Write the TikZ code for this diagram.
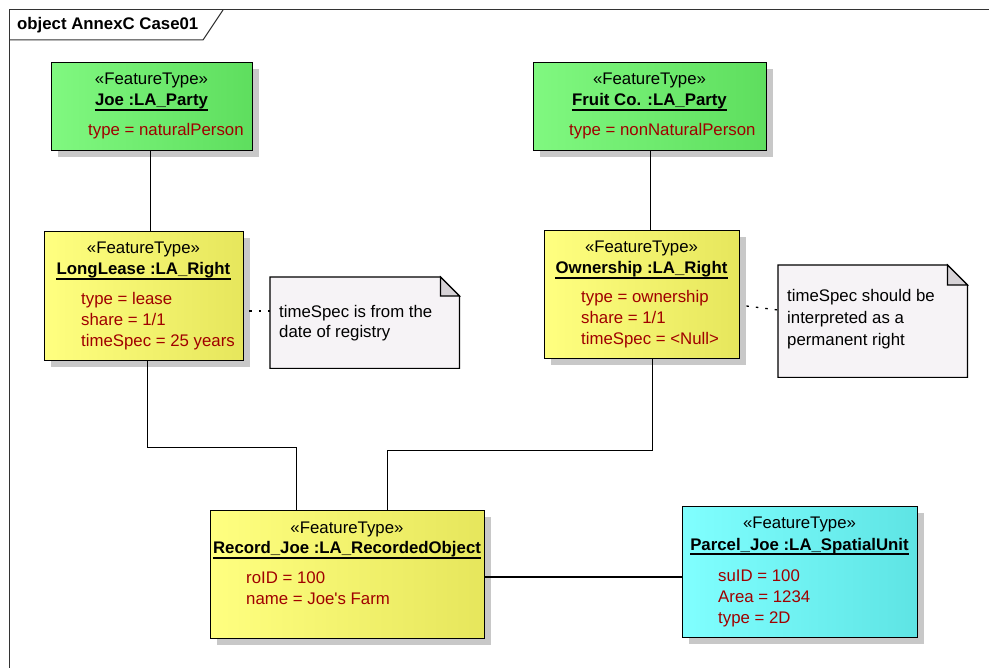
\documentclass[tikz,border=0pt]{standalone}
\usepackage{fontspec}
\setmainfont{Liberation Sans}
\usetikzlibrary{shadows}
\definecolor{gL}{RGB}{128,248,128}
\definecolor{gR}{RGB}{94,222,94}
\definecolor{yL}{RGB}{255,255,128}
\definecolor{yR}{RGB}{230,230,92}
\definecolor{cL}{RGB}{128,255,255}
\definecolor{cR}{RGB}{94,228,228}
\definecolor{noteF}{RGB}{246,243,246}
\definecolor{foldF}{RGB}{214,210,214}
\definecolor{shadowG}{RGB}{200,200,200}
\definecolor{attrRed}{RGB}{160,0,0}
\begin{document}
\begin{tikzpicture}[x=1pt,y=-1pt,
  txt/.style={inner sep=0pt, font=\fontsize{16.8}{19}\selectfont},
  objbox/.style={draw=black, line width=1.4pt, inner sep=0pt, anchor=north west,
    drop shadow={shadow xshift=6pt, shadow yshift=-6pt, fill=shadowG, opacity=1}},
  greenbox/.style={objbox, left color=gL, right color=gR},
  yellowbox/.style={objbox, left color=yL, right color=yR},
  cyanbox/.style={objbox, left color=cL, right color=cR},
  stereo/.style={txt, anchor=base},
  oname/.style={txt, anchor=base, font=\fontsize{16.8}{19}\selectfont\bfseries},
  uline/.style={line width=1.4pt},
  attr/.style={txt, anchor=base west, text=attrRed},
  notetxt/.style={txt, anchor=base west, text=black},
  notearea/.style={inner sep=0pt, anchor=north west},
  notedraw/.style={draw=black, line width=1.2pt, fill=noteF},
  folddraw/.style={draw=black, line width=1.2pt, fill=foldF},
  conn/.style={draw=black, line width=1.3pt},
  dotconn/.style={draw=black, line width=1.3pt, dash pattern=on 2.5pt off 7pt}
]
\useasboundingbox (0,0) rectangle (989,668);
\clip (0,0) rectangle (989,668);
\fill[white] (0,0) rectangle (989,668);

% frame
\draw[line width=1pt, draw=black!80] (9,10) rectangle (1010,700);
\draw[line width=1pt, draw=black!80] (9,40) -- (203,40) -- (223,10);
\node[txt, anchor=base west, font=\fontsize{16.8}{19}\selectfont\bfseries] (title) at (17,30) {object AnnexC Case01};

% Joe
\node[greenbox, minimum width=201pt, minimum height=88pt] (joe) at (51,62) {};
\node[stereo] (joeS) at (151.5,85) {«FeatureType»};
\node[oname] (joeN) at (151.5,106) {Joe :LA\_Party};
\draw[uline] ([yshift=-4pt]joeN.base west) -- ([yshift=-4pt]joeN.base east);
\node[attr] (joeA) at (88,136) {type = naturalPerson};

% Fruit Co.
\node[greenbox, minimum width=233pt, minimum height=88pt] (fruit) at (533,62) {};
\node[stereo] (fruitS) at (649.5,85) {«FeatureType»};
\node[oname] (fruitN) at (649.5,106) {Fruit Co. :LA\_Party};
\draw[uline] ([yshift=-4pt]fruitN.base west) -- ([yshift=-4pt]fruitN.base east);
\node[attr] (fruitA) at (569,136) {type = nonNaturalPerson};

% LongLease
\node[yellowbox, minimum width=199pt, minimum height=129pt] (ll) at (44,231) {};
\node[stereo] (llS) at (143.5,254) {«FeatureType»};
\node[oname] (llN) at (143.5,275) {LongLease :LA\_Right};
\draw[uline] ([yshift=-4pt]llN.base west) -- ([yshift=-4pt]llN.base east);
\node[attr] (llA1) at (81,305) {type = lease};
\node[attr] (llA2) at (81,326) {share = 1/1};
\node[attr] (llA3) at (81,347) {timeSpec = 25 years};

% Ownership
\node[yellowbox, minimum width=195pt, minimum height=128pt] (own) at (544,230) {};
\node[stereo] (ownS) at (641.5,253) {«FeatureType»};
\node[oname] (ownN) at (641.5,274) {Ownership :LA\_Right};
\draw[uline] ([yshift=-4pt]ownN.base west) -- ([yshift=-4pt]ownN.base east);
\node[attr] (ownA1) at (581,303) {type = ownership};
\node[attr] (ownA2) at (581,324) {share = 1/1};
\node[attr] (ownA3) at (581,345) {timeSpec = <Null>};

% Note 1
\node[notearea, minimum width=189pt, minimum height=91pt] (n1) at (270,277) {};
\draw[notedraw] (n1.north west) -- ([xshift=-19pt]n1.north east) -- ([yshift=-19pt]n1.north east) -- (n1.south east) -- (n1.south west) -- cycle;
\draw[folddraw] ([xshift=-19pt]n1.north east) -- ([xshift=-19pt,yshift=-19pt]n1.north east) -- ([yshift=-19pt]n1.north east) -- cycle;
\node[notetxt] (n1L1) at (279,318) {timeSpec is from the};
\node[notetxt] (n1L2) at (279,338) {date of registry};

% Note 2
\node[notearea, minimum width=189pt, minimum height=112pt] (n2) at (778,265) {};
\draw[notedraw] (n2.north west) -- ([xshift=-20pt]n2.north east) -- ([yshift=-20pt]n2.north east) -- (n2.south east) -- (n2.south west) -- cycle;
\draw[folddraw] ([xshift=-20pt]n2.north east) -- ([xshift=-20pt,yshift=-20pt]n2.north east) -- ([yshift=-20pt]n2.north east) -- cycle;
\node[notetxt] (n2L1) at (787,302) {timeSpec should be};
\node[notetxt] (n2L2) at (787,324) {interpreted as a};
\node[notetxt] (n2L3) at (787,346) {permanent right};

% Record_Joe
\node[yellowbox, minimum width=274pt, minimum height=128pt] (rec) at (210,510) {};
\node[stereo] (recS) at (347,533) {«FeatureType»};
\node[oname] (recN) at (347,554) {Record\_Joe :LA\_RecordedObject};
\draw[uline] ([yshift=-4pt]recN.base west) -- ([yshift=-4pt]recN.base east);
\node[attr] (recA1) at (246,583) {roID = 100};
\node[attr] (recA2) at (246,604) {name = Joe\textquotesingle s Farm};

% Parcel_Joe
\node[cyanbox, minimum width=235pt, minimum height=131pt] (par) at (682,506) {};
\node[stereo] (parS) at (799.5,529) {«FeatureType»};
\node[oname] (parN) at (799.5,550) {Parcel\_Joe :LA\_SpatialUnit};
\draw[uline] ([yshift=-4pt]parN.base west) -- ([yshift=-4pt]parN.base east);
\node[attr] (parA1) at (718,581) {suID = 100};
\node[attr] (parA2) at (718,602) {Area = 1234};
\node[attr] (parA3) at (718,623) {type = 2D};

% connectors
\draw[conn] ([xshift=-1.5pt]joe.south) -- ([xshift=-1.5pt]joe.south |- ll.north);
\draw[conn] ([xshift=0.5pt]fruit.south) -- ([xshift=0.5pt]fruit.south |- own.north);
\draw[conn] ([xshift=3.5pt]ll.south) -- ++(0,86) -| ([xshift=-51pt]rec.north);
\draw[conn] ([xshift=10.5pt]own.south) -- ++(0,91) -| ([xshift=40pt]rec.north);
\draw[conn] ([yshift=-67pt]rec.north east) -- ([yshift=-71pt]par.north west);
\draw[dotconn] ([xshift=5pt,yshift=-80pt]ll.north east) -- ([yshift=-34pt]n1.north west);
\draw[dotconn] ([xshift=6pt,yshift=-76pt]own.north east) -- ([yshift=-45pt]n2.north west);
\end{tikzpicture}
\end{document}
